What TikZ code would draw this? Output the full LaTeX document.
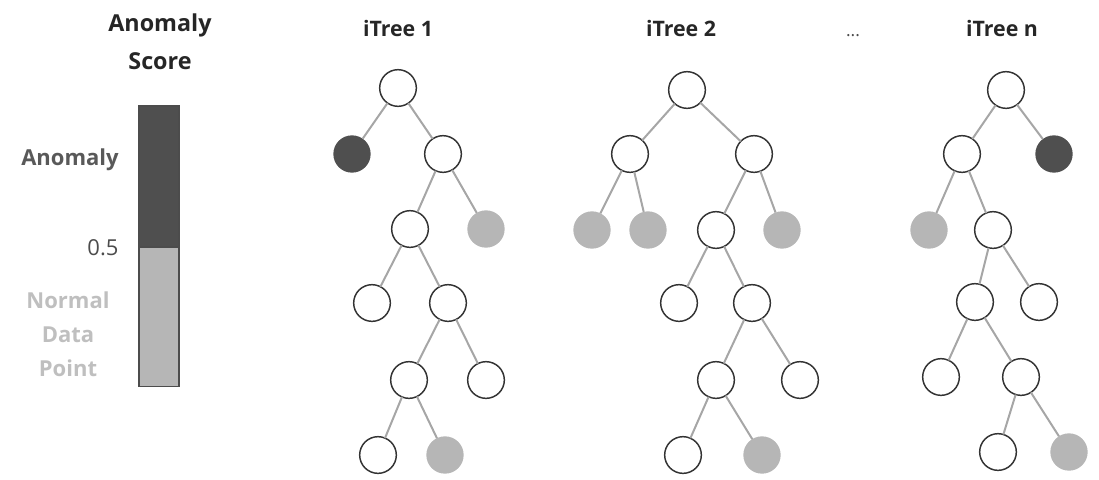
\documentclass[tikz,border=0pt]{standalone}
\usepackage{fontspec}
\setmainfont{Open Sans}
\begin{document}
\begin{tikzpicture}[x=0.75pt,y=-0.75pt,
  every node/.style={inner sep=0pt, outer sep=0pt},
  tnode/.style={circle, minimum size=27.5pt, draw=black!80, line width=1.1pt, fill=white},
  anom/.style={circle, minimum size=28pt, fill=anomgray},
  norm/.style={circle, minimum size=28pt, fill=normgray},
  edge/.style={draw=edgegray, line width=1.5pt},
  title/.style={font=\bfseries\fontsize{16}{20}\selectfont, text=black!85},
  side/.style={font=\bfseries\fontsize{16.5}{25.5}\selectfont, align=center}
]
\definecolor{anomgray}{HTML}{4F4F4F}
\definecolor{normgray}{HTML}{B6B6B6}
\definecolor{edgegray}{HTML}{A6A6A6}
\useasboundingbox (0,0) rectangle (1099,479);

% score bar
\node[font=\bfseries\fontsize{17.5}{28.5}\selectfont, text=black!85, align=center] (st) at (160,42) {Anomaly\\Score};
\node[draw=black!70, line width=0.8pt, fill=anomgray, minimum width=30pt, minimum height=106pt, anchor=north west] (bhi) at (139,106) {};
\node[draw=black!70, line width=0.8pt, fill=normgray, minimum width=30pt, minimum height=104.5pt, anchor=north west] (blo) at (139,247) {};
\node[side, text=black!65] (la) at (70,160) {Anomaly};
\node[font=\fontsize{16.5}{20}\selectfont, text=black!70] (lh) at (103,248) {0.5};
\node[side, text=black!25] (ln) at (68,334) {Normal\\Data\\Point};

% titles
\node[title] (h1) at (398,28) {iTree 1};
\node[title] (h2) at (681,28) {iTree 2};
\node[font=\fontsize{13}{16}\selectfont, text=black!70] (hd) at (853,36) {...};
\node[title] (hn) at (1002,28) {iTree n};

% tree 1
\node[tnode] (a0) at (398,88) {};
\node[anom]  (a1) at (352,154) {};
\node[tnode] (a2) at (443,154) {};
\node[tnode] (a3) at (410,229) {};
\node[norm]  (a4) at (486,229) {};
\node[tnode] (a5) at (372,303) {};
\node[tnode] (a6) at (448,303) {};
\node[tnode] (a7) at (409,380) {};
\node[tnode] (a8) at (486,380) {};
\node[tnode] (a9) at (378,455) {};
\node[norm]  (a10) at (445,455) {};
\path[edge] (a0)--(a1) (a0)--(a2) (a2)--(a3) (a2)--(a4) (a3)--(a5) (a3)--(a6)
  (a6)--(a7) (a6)--(a8) (a7)--(a9) (a7)--(a10);

% tree 2
\node[tnode] (b0) at (687,90) {};
\node[tnode] (b1) at (630,154) {};
\node[tnode] (b2) at (754,154) {};
\node[norm]  (b3) at (592,230) {};
\node[norm]  (b4) at (648,230) {};
\node[tnode] (b5) at (716,230) {};
\node[norm]  (b6) at (782,230) {};
\node[tnode] (b7) at (679,303) {};
\node[tnode] (b8) at (752,303) {};
\node[tnode] (b9) at (716,380) {};
\node[tnode] (b10) at (800,380) {};
\node[tnode] (b11) at (683,455) {};
\node[norm]  (b12) at (762,455) {};
\path[edge] (b0)--(b1) (b0)--(b2) (b1)--(b3) (b1)--(b4) (b2)--(b5) (b2)--(b6)
  (b5)--(b7) (b5)--(b8) (b8)--(b9) (b8)--(b10) (b9)--(b11) (b9)--(b12);

% tree n
\node[tnode] (c0) at (1006,90) {};
\node[tnode] (c1) at (962,154) {};
\node[anom]  (c2) at (1054,154) {};
\node[norm]  (c3) at (929,230) {};
\node[tnode] (c4) at (993,230) {};
\node[tnode] (c5) at (975,302) {};
\node[tnode] (c6) at (1039,302) {};
\node[tnode] (c7) at (941,377) {};
\node[tnode] (c8) at (1021,377) {};
\node[tnode] (c9) at (998,452) {};
\node[norm]  (c10) at (1069,452) {};
\path[edge] (c0)--(c1) (c0)--(c2) (c1)--(c3) (c1)--(c4) (c4)--(c5) (c4)--(c6)
  (c5)--(c7) (c5)--(c8) (c8)--(c9) (c8)--(c10);
\end{tikzpicture}
\end{document}
